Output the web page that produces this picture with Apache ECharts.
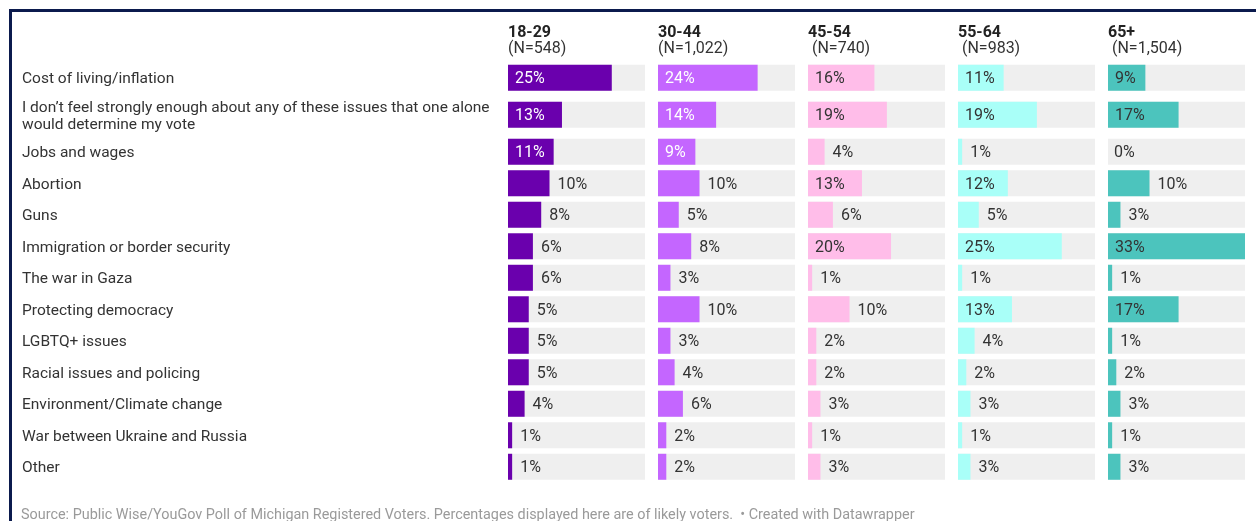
<!DOCTYPE html>
<html>
<head>
<meta charset="utf-8">
<script src="https://cdn.jsdelivr.net/npm/echarts@6/dist/echarts.min.js"></script>
<style>
  html, body { margin: 0; padding: 0; background: #ffffff; }
  #chart { width: 1256px; height: 521px; }
</style>
</head>
<body>
<div id="chart"></div>
<script>
// Issues that would determine the vote, by age group (share of likely voters, %)
const categories = [
  'Cost of living/inflation',
  'I don\u2019t feel strongly enough about any of these issues that one alone\nwould determine my vote',
  'Jobs and wages',
  'Abortion',
  'Guns',
  'Immigration or border security',
  'The war in Gaza',
  'Protecting democracy',
  'LGBTQ+ issues',
  'Racial issues and policing',
  'Environment/Climate change',
  'War between Ukraine and Russia',
  'Other'
];
const ageGroups = ['18-29', '30-44', '45-54', '55-64', '65+'];
const sampleSizes = ['(N=548)', '(N=1,022)', ' (N=740)', ' (N=983)', ' (N=1,504)'];

const age18to29 = [25, 13, 11, 10, 8, 6, 6, 5, 5, 5, 4, 1, 1];
const age30to44 = [24, 14, 9, 10, 5, 8, 3, 10, 3, 4, 6, 2, 2];
const age45to54 = [16, 19, 4, 13, 6, 20, 1, 10, 2, 2, 3, 1, 3];
const age55to64 = [11, 19, 1, 12, 5, 25, 1, 13, 4, 2, 3, 1, 3];
const age65plus = [9, 17, 0, 10, 3, 33, 1, 17, 1, 2, 3, 1, 3];

const sourceNote = 'Source: Public Wise/YouGov Poll of Michigan Registered Voters. Percentages displayed here are of likely voters.  \u2022 Created with Datawrapper';

// ---- styling / layout ----
const groupValues = [age18to29, age30to44, age45to54, age55to64, age65plus];
const groupColors = ['#6a00ad', '#c466ff', '#ffbde9', '#a9fff8', '#4cc4bd'];
const trackColor = '#efefef';
const textColor = '#333333';
const FONT = 'Roboto, "Noto Sans", Arial, sans-serif';
const LABEL_FONT_SIZE = 15.5;
const VALUE_FONT_SIZE = 16;
const BAR_H = 26;
const LABEL_PAD = 8;
const X_MAX = 33;

const panelLeft0 = 508, panelStep = 150, panelWidth = 137;
const gridTop = 62, extraLineUnits = 0.35;

// Row heights grow with the number of lines in the category label
const rowHeights = categories.map(c => 1 + (c.split('\n').length - 1) * extraLineUnits);
const rowCenters = [];
let acc = 0;
rowHeights.forEach(h => { rowCenters.push(acc + h / 2); acc += h; });
const totalUnits = acc;
const unitPx = 31.5;
const gridHeight = totalUnits * unitPx;

// text measuring for inside/outside label placement
const measureCtx = document.createElement('canvas').getContext('2d');
measureCtx.font = '15px Roboto';
function textWidth(s) { return measureCtx.measureText(s).width; }

function luminance(hex) {
  const c = [1, 3, 5].map(i => parseInt(hex.substr(i, 2), 16) / 255)
    .map(v => v <= 0.03928 ? v / 12.92 : Math.pow((v + 0.055) / 1.055, 2.4));
  return 0.2126 * c[0] + 0.7152 * c[1] + 0.0722 * c[2];
}

const grids = [{ left: 22, top: gridTop, width: 470, height: gridHeight }];
const xAxes = [{ gridIndex: 0, type: 'value', min: 0, max: 1, show: false }];
const yAxes = [{ gridIndex: 0, type: 'value', min: 0, max: totalUnits, inverse: true, show: false }];
const series = [];
const graphics = [];

// category labels on the left
series.push({
  type: 'custom',
  xAxisIndex: 0, yAxisIndex: 0,
  silent: true,
  data: categories.map((c, i) => [0, rowCenters[i], i]),
  encode: { x: 0, y: 1 },
  renderItem: function (params, api) {
    const p = api.coord([0, api.value(1)]);
    return {
      type: 'text',
      x: p[0], y: p[1] + 1.5,
      style: {
        text: categories[api.value(2)],
        fill: textColor,
        font: LABEL_FONT_SIZE + 'px ' + FONT,
        lineHeight: 17,
        align: 'left',
        verticalAlign: 'middle'
      }
    };
  }
});

groupValues.forEach((vals, g) => {
  const gi = g + 1;
  const left = panelLeft0 + g * panelStep;
  grids.push({ left: left, top: gridTop, width: panelWidth, height: gridHeight });
  xAxes.push({ gridIndex: gi, type: 'value', min: 0, max: X_MAX, show: false });
  yAxes.push({ gridIndex: gi, type: 'value', min: 0, max: totalUnits, inverse: true, show: false });

  const color = groupColors[g];
  const insideFill = luminance(color) < 0.35 ? '#ffffff' : textColor;

  series.push({
    type: 'custom',
    name: ageGroups[g],
    xAxisIndex: gi, yAxisIndex: gi,
    silent: true,
    data: vals.map((v, i) => [v, rowCenters[i]]),
    encode: { x: 0, y: 1 },
    renderItem: function (params, api) {
      const v = api.value(0);
      const y = api.value(1);
      const p0 = api.coord([0, y]);
      const p1 = api.coord([v, y]);
      const pMax = api.coord([X_MAX, y]);
      const top = p0[1] - BAR_H / 2;
      const barW = p1[0] - p0[0];
      const label = v + '%';
      const inside = barW >= textWidth(label) + 2 * LABEL_PAD;
      return {
        type: 'group',
        children: [
          { type: 'rect', shape: { x: p0[0], y: top, width: pMax[0] - p0[0], height: BAR_H }, style: { fill: trackColor } },
          { type: 'rect', shape: { x: p0[0], y: top, width: barW, height: BAR_H }, style: { fill: color } },
          {
            type: 'text',
            x: inside ? p0[0] + LABEL_PAD - 1 : (v === 0 ? p0[0] + LABEL_PAD - 2 : p1[0] + LABEL_PAD),
            y: p0[1] + 1.5,
            style: {
              text: label,
              fill: inside ? insideFill : textColor,
              font: VALUE_FONT_SIZE + 'px ' + FONT,
              align: 'left',
              verticalAlign: 'middle'
            }
          }
        ]
      };
    }
  });

  // column header: age group and sample size
  graphics.push({
    type: 'text', left: left, top: 25,
    style: { text: ageGroups[g], fill: '#222222', font: 'bold 16px ' + FONT }
  });
  graphics.push({
    type: 'text', left: left, top: 41,
    style: { text: sampleSizes[g], fill: textColor, font: '16px ' + FONT }
  });
});

// frame lines along the top and left edges
graphics.push({
  type: 'rect', left: 8, top: 8,
  shape: { x: 0, y: 0, width: 1400, height: 700 },
  style: { fill: 'none', stroke: '#0b1a4d', lineWidth: 3 },
  z: 10
});
graphics.push({
  type: 'text', left: 21, top: 508,
  style: { text: sourceNote, fill: '#9a9a9a', font: '14.4px ' + FONT }
});

const chart = echarts.init(document.getElementById('chart'), null, { renderer: 'canvas' });
chart.setOption({
  backgroundColor: '#ffffff',
  animation: false,
  grid: grids,
  xAxis: xAxes,
  yAxis: yAxes,
  series: series,
  graphic: graphics
});
</script>
</body>
</html>
